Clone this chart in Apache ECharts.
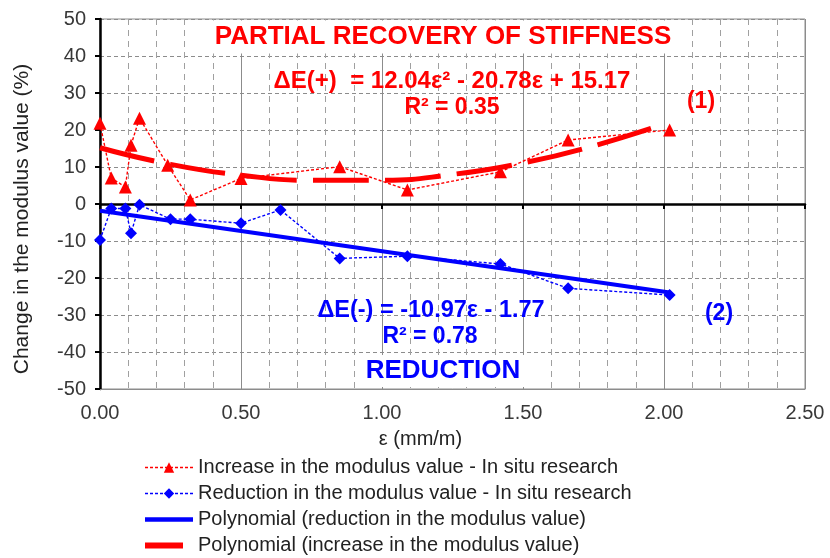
<!DOCTYPE html>
<html>
<head>
<meta charset="utf-8">
<script src="https://cdn.jsdelivr.net/npm/echarts@6/dist/echarts.min.js"></script>
<style>html,body{margin:0;padding:0;background:#fff;}#c{width:830px;height:558px;}</style>
</head>
<body>
<div id="c"></div>
<script>
// ---- data ----
const xTickLabels = ['0.00', '0.50', '1.00', '1.50', '2.00', '2.50'];
const yTickLabels = [-50, -40, -30, -20, -10, 0, 10, 20, 30, 40, 50];

const strainIncrease = [0, 0.04, 0.09, 0.11, 0.14, 0.24, 0.32, 0.50, 0.85, 1.09, 1.42, 1.66, 2.02];
const increaseValues = [21.8, 7.0, 4.6, 15.9, 23.2, 10.5, 1.1, 6.9, 10.1, 3.8, 8.7, 17.3, 20.0];

const strainReduction = [0, 0.04, 0.09, 0.11, 0.14, 0.25, 0.32, 0.50, 0.64, 0.85, 1.09, 1.42, 1.66, 2.02];
const reductionValues = [-9.7, -1.2, -1.2, -7.9, -0.2, -4.1, -4.1, -5.2, -1.6, -14.7, -14.1, -16.2, -22.8, -24.6];

const trendIncreaseX = [0, 0.25, 0.5, 0.75, 1.0, 1.25, 1.5, 1.75, 2.0];
const trendIncreaseValues = [15.2, 10.7, 7.8, 6.4, 6.4, 8.0, 11.1, 15.7, 21.6];

const trendReductionX = [0, 2.02];
const trendReductionValues = [-1.8, -23.9];

const seriesNames = [
  'Increase in the modulus value - In situ research',
  'Reduction in the modulus value - In situ research',
  'Polynomial (reduction in the modulus value)',
  'Polynomial (increase in the modulus value)'
];

const pairs = (xs, ys) => xs.map((x, i) => [x, ys[i]]);

const RED = '#ff0000';
const BLUE = '#0000ff';
const FONT = 'Liberation Sans, Arial, sans-serif';

const chart = echarts.init(document.getElementById('c'), null, {renderer: 'canvas'});

function txt(text, x, y, color, size, bg, pad) {
  return {
    type: 'text', x: x, y: y, z: 50,
    style: {
      text: text, fill: color, font: 'bold ' + size + 'px ' + FONT,
      textAlign: 'center', textVerticalAlign: 'middle',
      backgroundColor: bg || 'transparent', padding: pad || 0
    }
  };
}

chart.setOption({
  animation: false,
  backgroundColor: '#fff',
  grid: {left: 100, right: 25, top: 19, bottom: 169, show: true, borderColor: '#8c8c8c', borderWidth: 1},
  xAxis: [{
    type: 'value', min: 0, max: 2.5, interval: 0.5, position: 'bottom',
    name: 'ε (mm/m)', nameLocation: 'middle', nameGap: 40,
    nameTextStyle: {fontSize: 20, color: '#222', fontFamily: FONT, padding: [0, 64, 0, 0]},
    axisLine: {onZero: false, lineStyle: {color: '#8c8c8c', width: 1}},
    axisTick: {show: false},
    axisLabel: {fontSize: 20, color: '#383838', fontFamily: FONT, margin: 14,
      formatter: (v) => { const i = Math.round(v / 0.5); return xTickLabels[i] !== undefined ? xTickLabels[i] : ''; }},
    splitLine: {show: true, lineStyle: {color: '#8c8c8c', width: 1, type: 'solid'}},
    minorTick: {show: false, splitNumber: 5},
    minorSplitLine: {show: true, lineStyle: {color: '#a0a0a0', width: 1, type: [6, 5]}}
  }, {
    type: 'value', min: 0, max: 2.5, interval: 0.5, position: 'top',
    axisLine: {onZero: true, lineStyle: {color: '#000', width: 2.5}},
    axisTick: {show: true, inside: true, length: 5, lineStyle: {color: '#000', width: 2}},
    axisLabel: {show: false},
    splitLine: {show: false}
  }],
  yAxis: {
    type: 'value', min: -50, max: 50, interval: 10,
    name: 'Change in the modulus value (%)', nameLocation: 'middle', nameGap: 67,
    nameTextStyle: {fontSize: 21, color: '#222', fontFamily: FONT, padding: [0, 30, 0, 0]},
    axisLine: {onZero: false, lineStyle: {color: '#000', width: 2.5}},
    axisTick: {show: true, length: 5, lineStyle: {color: '#000', width: 2}},
    axisLabel: {fontSize: 20, color: '#383838', fontFamily: FONT, margin: 14,
      formatter: (v) => { const i = Math.round((v + 50) / 10); return String(yTickLabels[i]); }},
    splitLine: {show: true, lineStyle: {color: '#8c8c8c', width: 1, type: [4, 3]}}
  },
  legend: {
    orient: 'vertical', left: 142, top: 457, itemWidth: 48, itemHeight: 13, itemGap: 5, padding: 0,
    data: [
      {name: seriesNames[0], lineStyle: {width: 1.5}},
      {name: seriesNames[1], lineStyle: {width: 1.5}},
      {name: seriesNames[2], lineStyle: {width: 4.5}},
      {name: seriesNames[3], lineStyle: {width: 6, type: [38, 30]}}
    ],
    textStyle: {fontSize: 20, color: '#222', fontFamily: FONT, lineHeight: 21}
  },
  series: [{
    name: seriesNames[3], type: 'line', smooth: true, z: 3,
    data: pairs(trendIncreaseX, trendIncreaseValues),
    showSymbol: false, symbol: 'none',
    lineStyle: {color: RED, width: 5, type: [56, 16]},
    itemStyle: {color: RED, opacity: 0}
  }, {
    name: seriesNames[2], type: 'line', z: 3,
    data: pairs(trendReductionX, trendReductionValues),
    showSymbol: false, symbol: 'none',
    lineStyle: {color: BLUE, width: 4, type: 'solid'},
    itemStyle: {color: BLUE, opacity: 0}
  }, {
    name: seriesNames[0], type: 'line', z: 4,
    data: pairs(strainIncrease, increaseValues),
    symbol: 'triangle', symbolSize: 13,
    lineStyle: {color: RED, width: 1.4, type: [3, 2]},
    itemStyle: {color: RED}
  }, {
    name: seriesNames[1], type: 'line', z: 4,
    data: pairs(strainReduction, reductionValues),
    symbol: 'diamond', symbolSize: 12,
    lineStyle: {color: BLUE, width: 1.4, type: [3, 2]},
    itemStyle: {color: BLUE}
  }],
  graphic: [
    txt('PARTIAL RECOVERY OF STIFFNESS', 443, 37, RED, 26, '#fff', [3, 14, 4, 14]),
    txt('ΔE(+)  = 12.04ε² - 20.78ε + 15.17', 452, 81, RED, 24),
    txt('R² = 0.35', 452, 108, RED, 23),
    txt('(1)', 701, 102, RED, 23),
    txt('ΔE(-) = -10.97ε - 1.77', 431, 311, BLUE, 23.5),
    txt('R² = 0.78', 430, 337, BLUE, 23),
    txt('REDUCTION', 443, 371, BLUE, 26, '#fff', [3, 10, 3, 10]),
    txt('(2)', 719, 314, BLUE, 23)
  ]
});
</script>
</body>
</html>
